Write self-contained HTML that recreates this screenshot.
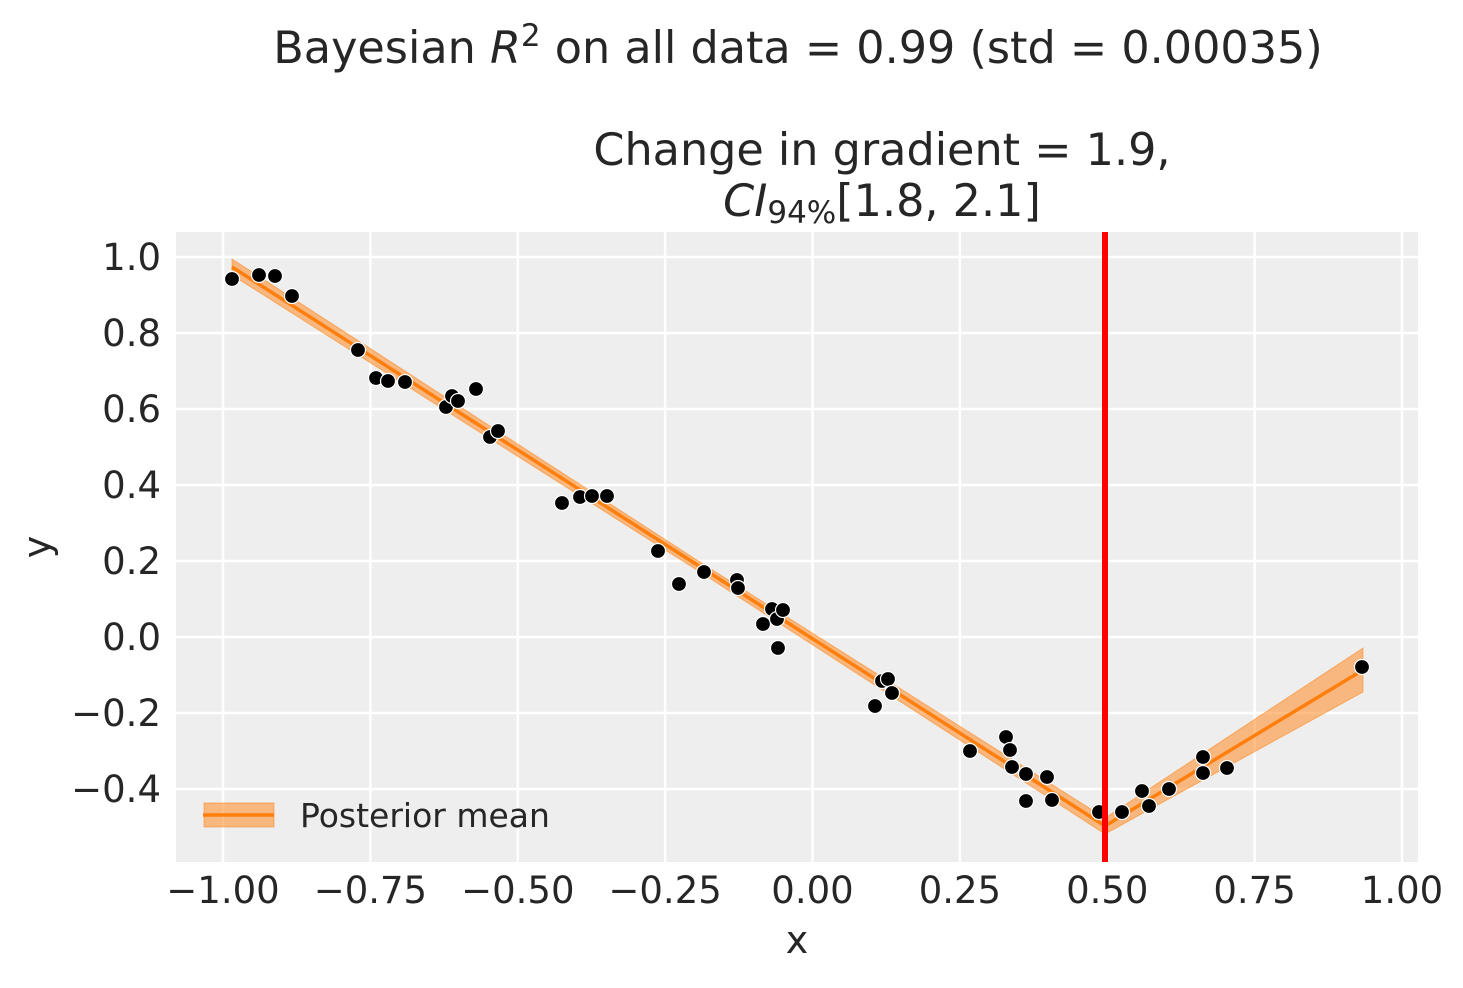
<!DOCTYPE html>
<html><head><meta charset="utf-8"><style>
html,body{margin:0;padding:0;background:#fff;}
svg text{font-family:"DejaVu Sans","Liberation Sans",sans-serif;fill:#262626;}
</style></head><body>
<svg width="1463" height="983" viewBox="0 0 1463 983" xmlns="http://www.w3.org/2000/svg">
<rect x="0" y="0" width="1463" height="983" fill="#fff"/>
<rect x="176" y="232" width="1242" height="630" fill="#eeeeee"/>
<g stroke="#fff" stroke-width="2.5">
<line x1="223" y1="232" x2="223" y2="862"/>
<line x1="370.4" y1="232" x2="370.4" y2="862"/>
<line x1="517.8" y1="232" x2="517.8" y2="862"/>
<line x1="665.1" y1="232" x2="665.1" y2="862"/>
<line x1="812.5" y1="232" x2="812.5" y2="862"/>
<line x1="959.9" y1="232" x2="959.9" y2="862"/>
<line x1="1107.3" y1="232" x2="1107.3" y2="862"/>
<line x1="1254.6" y1="232" x2="1254.6" y2="862"/>
<line x1="1402" y1="232" x2="1402" y2="862"/>
<line x1="176" y1="257" x2="1418" y2="257"/>
<line x1="176" y1="333" x2="1418" y2="333"/>
<line x1="176" y1="409" x2="1418" y2="409"/>
<line x1="176" y1="485" x2="1418" y2="485"/>
<line x1="176" y1="561" x2="1418" y2="561"/>
<line x1="176" y1="637" x2="1418" y2="637"/>
<line x1="176" y1="713" x2="1418" y2="713"/>
<line x1="176" y1="789" x2="1418" y2="789"/>
</g>
<polygon points="232,259 700,562 1105,818 1363,648 1363,692 1105,834 700,572 232,275" fill="#ff7f0e" fill-opacity="0.5" stroke="#ff7f0e" stroke-opacity="0.5" stroke-width="1"/>
<polyline points="232,267 1105,826 1363,670" fill="none" stroke="#ff7f0e" stroke-width="3.5"/>
<g fill="#000" stroke="#fff" stroke-width="1.2">
<circle cx="232" cy="279" r="7.5"/><circle cx="259" cy="275" r="7.5"/><circle cx="275" cy="276" r="7.5"/><circle cx="292" cy="296" r="7.5"/>
<circle cx="358" cy="350" r="7.5"/><circle cx="376" cy="378" r="7.5"/><circle cx="388" cy="381" r="7.5"/><circle cx="405" cy="382" r="7.5"/>
<circle cx="446" cy="407" r="7.5"/><circle cx="452" cy="396" r="7.5"/><circle cx="458" cy="401" r="7.5"/><circle cx="476" cy="389" r="7.5"/>
<circle cx="490" cy="437" r="7.5"/><circle cx="498" cy="431" r="7.5"/><circle cx="562" cy="503" r="7.5"/><circle cx="580" cy="497" r="7.5"/>
<circle cx="592" cy="496" r="7.5"/><circle cx="607" cy="496" r="7.5"/><circle cx="658" cy="551" r="7.5"/><circle cx="679" cy="584" r="7.5"/>
<circle cx="704" cy="572" r="7.5"/><circle cx="737" cy="580" r="7.5"/><circle cx="738" cy="588" r="7.5"/><circle cx="763" cy="624" r="7.5"/>
<circle cx="772" cy="609" r="7.5"/><circle cx="777" cy="619" r="7.5"/><circle cx="778" cy="648" r="7.5"/><circle cx="783" cy="610" r="7.5"/>
<circle cx="875" cy="706" r="7.5"/><circle cx="882" cy="681" r="7.5"/><circle cx="888" cy="679" r="7.5"/><circle cx="892" cy="693" r="7.5"/>
<circle cx="970" cy="751" r="7.5"/><circle cx="1006" cy="737" r="7.5"/><circle cx="1010" cy="750" r="7.5"/><circle cx="1012" cy="767" r="7.5"/>
<circle cx="1026" cy="774" r="7.5"/><circle cx="1026" cy="801" r="7.5"/><circle cx="1047" cy="777" r="7.5"/><circle cx="1052" cy="800" r="7.5"/>
<circle cx="1099" cy="812" r="7.5"/><circle cx="1122" cy="812" r="7.5"/><circle cx="1142" cy="791" r="7.5"/><circle cx="1149" cy="806" r="7.5"/>
<circle cx="1169" cy="789" r="7.5"/><circle cx="1203" cy="757" r="7.5"/><circle cx="1203" cy="773" r="7.5"/><circle cx="1227" cy="768" r="7.5"/>
<circle cx="1362" cy="667" r="7.5"/>
</g>
<line x1="1105" y1="232" x2="1105" y2="862" stroke="#ff0000" stroke-width="6"/>
<rect x="204" y="803" width="70" height="24" fill="#ff7f0e" fill-opacity="0.5" stroke="#ff7f0e" stroke-opacity="0.5"/>
<line x1="203" y1="815" x2="274" y2="815" stroke="#ff7f0e" stroke-width="3.5"/>
<text x="300" y="827" font-size="33">Posterior mean</text>
<g font-size="37" text-anchor="end">
<text x="161" y="270">1.0</text><text x="161" y="346">0.8</text><text x="161" y="422">0.6</text>
<text x="161" y="498">0.4</text><text x="161" y="574">0.2</text><text x="161" y="650">0.0</text>
<text x="161" y="726">−0.2</text><text x="161" y="802">−0.4</text>
</g>
<g font-size="37" text-anchor="middle">
<text x="223" y="903">−1.00</text><text x="370.4" y="903">−0.75</text><text x="517.8" y="903">−0.50</text>
<text x="665.1" y="903">−0.25</text><text x="812.5" y="903">0.00</text><text x="959.9" y="903">0.25</text>
<text x="1107.3" y="903">0.50</text><text x="1254.6" y="903">0.75</text><text x="1402" y="903">1.00</text>
</g>
<g font-size="38" text-anchor="middle">
<text x="797" y="953">x</text>
<text x="50" y="547" transform="rotate(-90 50 547)">y</text>
</g>
<text x="798" y="63" font-size="44.5" text-anchor="middle">Bayesian <tspan font-style="italic">R</tspan><tspan font-size="31" dy="-17">2</tspan><tspan dy="17"> on all data = 0.99 (std = 0.00035)</tspan></text>
<text x="882" y="165" font-size="44.5" text-anchor="middle">Change in gradient = 1.9,</text>
<text x="882" y="216" font-size="44.5" text-anchor="middle"><tspan font-style="italic">CI</tspan><tspan font-size="31" dy="7">94%</tspan><tspan dy="-7">[1.8, 2.1]</tspan></text>
</svg>
</body></html>
